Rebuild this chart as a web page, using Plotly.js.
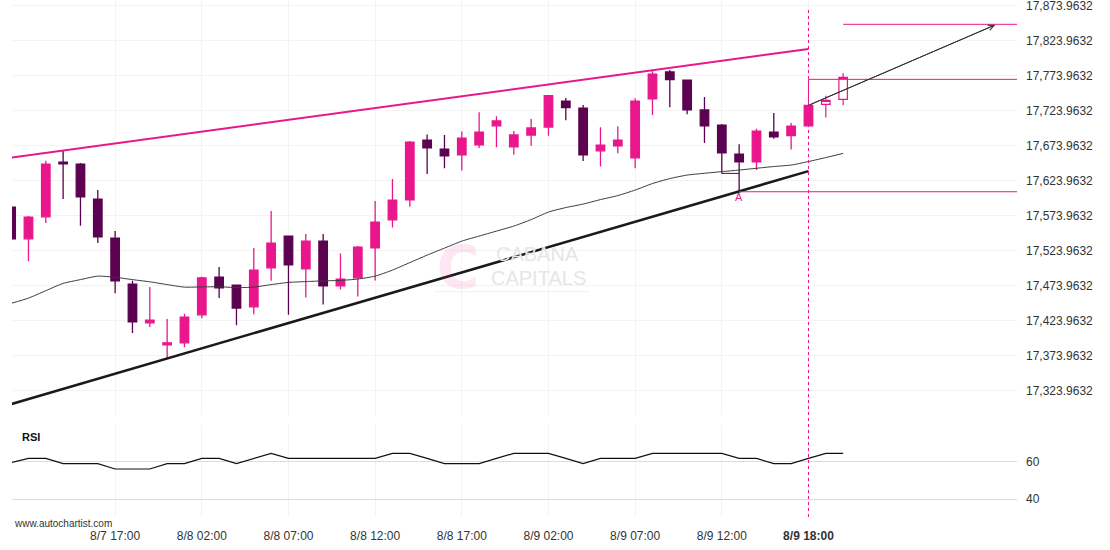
<!DOCTYPE html>
<html>
<head>
<meta charset="utf-8">
<script src="https://cdn.plot.ly/plotly-3.0.1.min.js"></script>
<style>
  html, body { margin: 0; padding: 0; background: #ffffff; }
  #chart { width: 1110px; height: 550px; }
</style>
</head>
<body>
<div id="chart"></div>
<script>
// ---------- DATA ----------
// hourly candles (index = candle number)
const candleOpen  = [17586.1,17540.8,17572.2,17650.4,17647.5,17597.5,17541.8,17476.1,17420.8,17389.4,
                     17392.2,17432.2,17486.1,17474.7,17443.7,17499.4,17544.7,17497.9,17537.5,17473.7,
                     17485.1,17528.0,17567.9,17596.6,17681.8,17668.9,17660.8,17675.1,17702.2,17672.2,
                     17689.0,17700.4,17737.5,17727.5,17666.5,17673.7,17656.5,17740.8,17779.0,17767.5,
                     17724.7,17703.2,17661.8,17650.8,17693.2,17688.0,17702.2];
const candleHigh  = [17588.0,17573.2,17652.2,17666.1,17649.0,17610.4,17551.8,17480.8,17471.8,17426.1,
                     17433.7,17486.5,17500.4,17475.5,17527.5,17580.4,17545.5,17547.5,17547.5,17519.9,
                     17530.4,17594.7,17626.1,17680.4,17689.9,17688.9,17694.2,17721.4,17715.7,17694.7,
                     17711.8,17746.0,17741.8,17731.8,17700.0,17701.4,17741.4,17780.0,17781.8,17768.0,
                     17743.2,17704.7,17675.7,17698.0,17720.4,17706.1,17731.8];
const candleLow   = [17538.0,17508.9,17563.2,17597.5,17559.4,17534.7,17463.2,17406.1,17414.7,17370.4,
                     17386.1,17427.5,17456.1,17417.5,17433.2,17480.8,17432.2,17457.1,17447.1,17468.5,
                     17458.5,17481.4,17557.1,17587.1,17633.2,17641.4,17638.5,17670.4,17671.4,17660.8,
                     17673.7,17687.9,17710.0,17651.8,17644.2,17662.8,17641.4,17717.5,17728.5,17718.5,
                     17677.5,17634.2,17609.4,17639.0,17683.7,17668.5,17701.8];
const candleClose = [17540.8,17571.8,17647.5,17648.0,17600.8,17543.7,17480.8,17422.2,17424.7,17392.2,
                     17429.0,17485.1,17470.8,17441.8,17496.1,17534.7,17503.7,17537.5,17473.7,17483.2,
                     17528.9,17564.7,17596.1,17678.9,17670.8,17659.4,17684.7,17693.2,17709.0,17689.0,
                     17699.0,17745.1,17728.0,17660.8,17674.7,17681.8,17737.5,17776.1,17768.0,17725.1,
                     17702.2,17663.7,17650.8,17694.7,17686.5,17701.8,17731.4];

// candles formed after the pattern signal
const afterIdx   = [47, 48];
const afterOpen  = [17732.8, 17740.0];
const afterHigh  = [17745.1, 17777.5];
const afterLow   = [17714.2, 17731.4];
const afterClose = [17738.5, 17771.4];

// moving average (price panel)
const maValues = [17448.6,17456.1,17466.7,17477.1,17482.5,17487.5,17485.8,17482.5,17479.4,17475.4,
                  17471.8,17472.1,17472.3,17471.1,17471.8,17475.4,17478.5,17479.7,17480.7,17481.4,
                  17483.3,17487.5,17496.1,17506.8,17517.5,17527.5,17537.5,17544.7,17551.8,17559.0,
                  17568.2,17579.0,17585.4,17590.4,17596.8,17602.5,17610.4,17619.7,17626.8,17631.8,
                  17634.4,17636.7,17639.0,17641.5,17644.0,17646.1,17651.1,17656.8,17662.8];

// RSI panel
const rsiValues = [59.5,61.8,61.8,59.0,59.0,59.0,56.1,56.1,56.1,59.0,
                   59.0,61.8,61.8,59.0,61.8,64.5,61.8,61.8,61.8,61.8,
                   61.8,61.8,64.5,64.5,61.8,59.0,59.0,59.0,61.8,64.5,
                   64.5,64.5,61.8,59.0,61.8,61.8,61.8,64.5,64.5,64.5,
                   64.5,64.5,61.8,61.8,59.0,59.0,61.8,64.5,64.5];

// pattern lines (rising wedge / channel)
const resistanceX = [0, 46];
const resistanceY = [17656.8, 17811.8];
const supportX    = [0, 46];
const supportY    = [17304.7, 17637.5];

// levels
const levelAX = [42, 58.03];            // point "A" level
const levelAY = [17608.0, 17608.0];
const levelBX = [46, 46, 58.03];        // breakout level
const levelBY = [17731.4, 17768.5, 17768.5];
const targetX = [48, 58.03];            // target level
const targetY = [17847.1, 17847.1];
const forecastX = [46, 56.76];          // forecast arrow
const forecastY = [17731.4, 17846.1];
const pointA = {x: 42, y: 17609.4, label: 'A'};
const lowLinkX = [41, 42];
const lowLinkY = [17634.2, 17634.2];
const signalIdx = 46;

// axes
const xTickVals  = [6, 11, 16, 21, 26, 31, 36, 41, 46];
const xTickText  = ['8/7 17:00','8/8 02:00','8/8 07:00','8/8 12:00','8/8 17:00',
                    '8/9 02:00','8/9 07:00','8/9 12:00','<b>8/9 18:00</b>'];
const yTickVals  = [17323.9632,17373.9632,17423.9632,17473.9632,17523.9632,17573.9632,
                    17623.9632,17673.9632,17723.9632,17773.9632,17823.9632,17873.9632];
const rsiTickVals = [40, 60];

// ---------- CHART ----------
const PINK = '#e9168c';
const DARK = '#5b0350';
const idx = candleOpen.map((_, i) => i);
const maIdx = maValues.map((_, i) => i);
const rsiIdx = rsiValues.map((_, i) => i);

// paper helpers (plot area: x 12..1017, y 0..517)
const px = x => (x - 12) / 1005;
const py = y => (517 - y) / 517;

const traces = [
  {type: 'scatter', mode: 'lines', x: maIdx, y: maValues, xaxis: 'x', yaxis: 'y',
   line: {color: '#3a3a3a', width: 1, shape: 'spline', smoothing: 0.6}, hoverinfo: 'skip'},
  {type: 'scatter', mode: 'lines', x: resistanceX, y: resistanceY, xaxis: 'x', yaxis: 'y',
   line: {color: PINK, width: 2}, hoverinfo: 'skip'},
  {type: 'scatter', mode: 'lines', x: supportX, y: supportY, xaxis: 'x', yaxis: 'y',
   line: {color: '#1a1a1a', width: 2.5}, hoverinfo: 'skip'},
  {type: 'scatter', mode: 'lines', x: levelAX, y: levelAY, xaxis: 'x', yaxis: 'y',
   line: {color: PINK, width: 1}, hoverinfo: 'skip'},
  {type: 'scatter', mode: 'lines', x: levelBX, y: levelBY, xaxis: 'x', yaxis: 'y',
   line: {color: PINK, width: 1}, hoverinfo: 'skip'},
  {type: 'scatter', mode: 'lines', x: targetX, y: targetY, xaxis: 'x', yaxis: 'y',
   line: {color: PINK, width: 1}, hoverinfo: 'skip'},
  {type: 'scatter', mode: 'lines', x: lowLinkX, y: lowLinkY, xaxis: 'x', yaxis: 'y',
   line: {color: DARK, width: 1}, hoverinfo: 'skip'},
  {type: 'scatter', mode: 'lines', x: forecastX, y: forecastY, xaxis: 'x', yaxis: 'y',
   line: {color: '#333333', width: 1}, hoverinfo: 'skip'},
  {type: 'candlestick', x: idx, open: candleOpen, high: candleHigh, low: candleLow, close: candleClose,
   xaxis: 'x', yaxis: 'y', whiskerwidth: 0,
   increasing: {line: {color: PINK, width: 1.3}, fillcolor: PINK},
   decreasing: {line: {color: DARK, width: 1.3}, fillcolor: DARK}, hoverinfo: 'skip'},
  {type: 'candlestick', x: afterIdx, open: afterOpen, high: afterHigh, low: afterLow, close: afterClose,
   xaxis: 'x', yaxis: 'y', whiskerwidth: 0,
   increasing: {line: {color: PINK, width: 1.2}, fillcolor: '#ffffff'},
   decreasing: {line: {color: PINK, width: 1.2}, fillcolor: '#ffffff'}, hoverinfo: 'skip'},
  {type: 'scatter', mode: 'lines', x: rsiIdx, y: rsiValues, xaxis: 'x', yaxis: 'y2',
   line: {color: '#111111', width: 1.2}, hoverinfo: 'skip'}
];

const fontFam = 'Liberation Sans, Arial, sans-serif';

const layout = {
  width: 1110, height: 550,
  margin: {l: 12, r: 93, t: 0, b: 33},
  paper_bgcolor: '#ffffff', plot_bgcolor: '#ffffff',
  showlegend: false,
  boxgap: 0.3,
  font: {family: fontFam, size: 12, color: '#333333'},
  xaxis: {
    range: [0.05, 58.03], anchor: 'y2',
    tickmode: 'array', tickvals: xTickVals, ticktext: xTickText,
    showgrid: true, gridcolor: '#f3f3f3', gridwidth: 1,
    zeroline: false, showline: false, ticks: '',
    ticklabelstandoff: 10,
    tickfont: {size: 12, color: '#333333'},
    rangeslider: {visible: false}, fixedrange: true
  },
  yaxis: {
    domain: [0.197, 1], range: [17288.96, 17881.82], side: 'right',
    tickmode: 'array', tickvals: yTickVals, tickformat: ',.4f',
    showgrid: true, gridcolor: '#f3f3f3', gridwidth: 1,
    zeroline: false, showline: false, ticks: '',
    ticklabelstandoff: 8, ticklabeloverflow: 'allow',
    tickfont: {size: 12, color: '#333333'}, fixedrange: true
  },
  yaxis2: {
    domain: [0, 0.178], range: [30.35, 79.7], side: 'right',
    tickmode: 'array', tickvals: rsiTickVals,
    showgrid: true, gridcolor: '#dcdcdc', gridwidth: 1,
    zeroline: false, showline: false, ticks: '',
    ticklabelstandoff: 8,
    tickfont: {size: 12, color: '#333333'}, fixedrange: true
  },
  shapes: [
    {type: 'line', xref: 'x', yref: 'paper', x0: signalIdx, x1: signalIdx, y0: 0, y1: py(7),
     line: {color: PINK, width: 1, dash: 'dot'}},
    {type: 'line', xref: 'paper', yref: 'paper', x0: px(434), x1: px(590), y0: py(291.7), y1: py(291.7),
     line: {color: '#f0f0f0', width: 1}, layer: 'below'}
  ],
  annotations: [
    {xref: 'x', yref: 'y', x: forecastX[1], y: forecastY[1], ax: forecastX[0], ay: forecastY[0],
     axref: 'x', ayref: 'y', text: '', showarrow: true, arrowhead: 5, arrowsize: 1.1,
     arrowwidth: 1, arrowcolor: '#333333', standoff: 0, startstandoff: 0},
    {xref: 'x', yref: 'y', x: pointA.x, y: pointA.y, text: pointA.label, showarrow: false,
     yanchor: 'middle', yshift: -6, font: {size: 11, color: PINK, family: fontFam}},
    {xref: 'paper', yref: 'paper', x: px(458), y: py(268), text: '<b>C</b>', showarrow: false,
     xanchor: 'center', width: 40, height: 50,
     font: {size: 58, color: 'rgba(233,22,140,0.10)', family: 'DejaVu Sans, sans-serif'}},
    {xref: 'paper', yref: 'paper', x: px(537), y: py(254), text: 'CABANA', showarrow: false,
     font: {size: 20, color: '#e6e6e6', family: fontFam}},
    {xref: 'paper', yref: 'paper', x: px(538), y: py(278), text: 'CAPITALS', showarrow: false,
     font: {size: 20, color: '#e6e6e6', family: fontFam}},
    {xref: 'paper', yref: 'paper', x: px(20), y: py(437), text: '<b>RSI</b>', showarrow: false,
     xanchor: 'left', yanchor: 'middle', font: {size: 11, color: '#111111', family: fontFam}},
    {xref: 'paper', yref: 'paper', x: px(12), y: py(523), text: 'www.autochartist.com', showarrow: false,
     xanchor: 'left', yanchor: 'middle', font: {size: 10, color: '#333333', family: fontFam}}
  ]
};

Plotly.newPlot('chart', traces, layout, {displayModeBar: false, staticPlot: true});
</script>
</body>
</html>
